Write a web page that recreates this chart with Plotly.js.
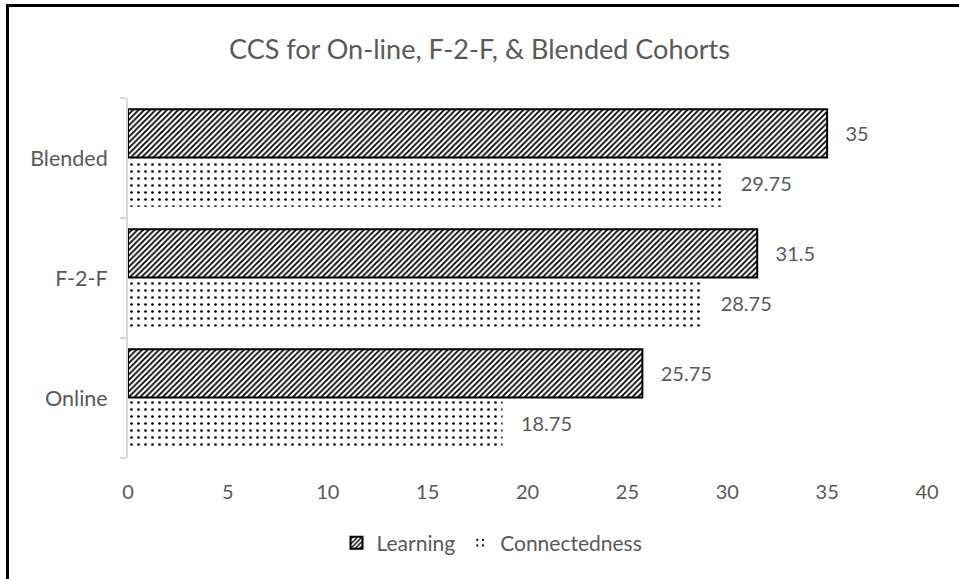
<!DOCTYPE html>
<html>
<head>
<meta charset="utf-8">
<script src="https://cdn.plot.ly/plotly-3.0.1.min.js"></script>
<style>
  html, body { margin: 0; padding: 0; background: #fff; }
  #chart { width: 959px; height: 579px; }
</style>
</head>
<body>
<div id="chart"></div>
<script>
const cohorts = ["Online", "F-2-F", "Blended"];
const learning = [25.75, 31.5, 35];
const connectedness = [18.75, 28.75, 29.75];
const xTicks = [0, 5, 10, 15, 20, 25, 30, 35, 40];
const chartTitle = "CCS for On-line, F-2-F, & Blended Cohorts";

const FONT = "Lato, 'Open Sans', sans-serif";
const GREY = "#595959";

const traces = [
  {
    type: "bar",
    orientation: "h",
    name: "Connectedness",
    y: cohorts,
    x: connectedness,
    marker: {
      color: "#ffffff",
      line: { width: 0, color: "rgba(0,0,0,0)" },
      pattern: { shape: ".", fgcolor: "#000000", bgcolor: "#ffffff", size: 7, solidity: 0.12, fillmode: "replace" }
    },
    texttemplate: "\u00a0\u00a0\u00a0%{x}",
    textposition: "outside",
    cliponaxis: false,
    textfont: { family: FONT, size: 20, color: GREY },
    hoverinfo: "x+y+name"
  },
  {
    type: "bar",
    orientation: "h",
    name: "Learning",
    y: cohorts,
    x: learning,
    marker: {
      color: "#ffffff",
      line: { width: 2, color: "#000000" },
      pattern: { shape: "/", fgcolor: "#000000", bgcolor: "#ffffff", size: 4, solidity: 0.45, fillmode: "replace" }
    },
    texttemplate: "\u00a0\u00a0\u00a0%{x}",
    textposition: "outside",
    cliponaxis: false,
    textfont: { family: FONT, size: 20, color: GREY },
    hoverinfo: "x+y+name"
  }
];

const L = 128, R = 32, T = 98, B = 121;
const W = 959, H = 579;
const pw = W - L - R, ph = H - T - B;
const px = v => (v - L) / pw;
const py = v => (H - B - v) / ph;

const layout = {
  width: W,
  height: H,
  margin: { l: L, r: R, t: T, b: B, pad: 0 },
  paper_bgcolor: "#ffffff",
  plot_bgcolor: "#ffffff",
  font: { family: FONT, size: 20, color: GREY },
  title: {
    text: chartTitle,
    font: { family: FONT, size: 27, color: GREY },
    x: 0.5, xref: "container", xanchor: "center",
    y: 1 - 50 / H, yref: "container", yanchor: "middle"
  },
  barmode: "group",
  bargap: 0.18,
  bargroupgap: 0.02,
  showlegend: true,
  legend: {
    orientation: "h",
    traceorder: "reversed",
    x: px(492), xanchor: "center",
    y: py(543), yanchor: "middle",
    font: { family: FONT, size: 21, color: GREY },
    itemwidth: 30
  },
  xaxis: {
    range: [0, 40],
    tickvals: xTicks,
    ticktext: xTicks.map(String),
    showgrid: false,
    zeroline: false,
    showline: false,
    ticks: "",
    ticklabelstandoff: 20,
    tickfont: { family: FONT, size: 20, color: GREY },
    fixedrange: true
  },
  yaxis: {
    type: "category",
    categoryorder: "array",
    categoryarray: cohorts,
    showgrid: false,
    zeroline: false,
    showline: true,
    linecolor: "#d9d9d9",
    linewidth: 2,
    ticks: "outside",
    tickson: "boundaries",
    ticklen: 6,
    tickcolor: "#d9d9d9",
    tickwidth: 2,
    ticklabelstandoff: 14,
    tickfont: { family: FONT, size: 21.5, color: GREY },
    fixedrange: true
  },
  shapes: [
    { type: "line", xref: "paper", yref: "paper", x0: px(7.5), x1: px(7.5), y0: py(5), y1: py(600), line: { color: "#000000", width: 3 } },
    { type: "line", xref: "paper", yref: "paper", x0: px(6), x1: px(975), y0: py(5.5), y1: py(5.5), line: { color: "#000000", width: 3 } }
  ]
};

Plotly.newPlot("chart", traces, layout, { displayModeBar: false, staticPlot: true });
</script>
</body>
</html>
